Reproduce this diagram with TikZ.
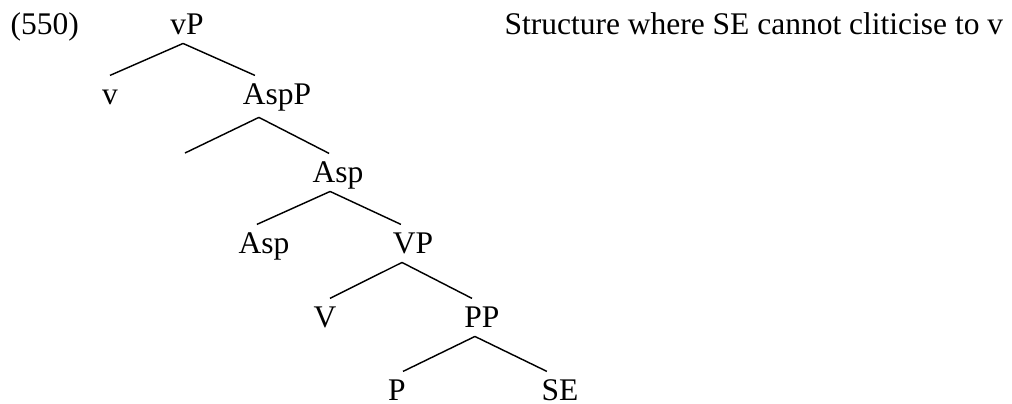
\documentclass[tikz,border=0pt]{standalone}
\usepackage{fontspec}
\setmainfont{Liberation Serif}

\tikzset{
    cat/.style={inner xsep=0pt, inner ysep=3.4pt, text height=7.3pt, text depth=0pt, anchor=base},
    branch/.style={line width=0.55pt}
}

\begin{document}
\begin{tikzpicture}[x=0.381pt, y=-0.381pt, font=\fontsize{12}{14.4}\selectfont]
    \useasboundingbox (0,0) rectangle (1012,403);

    % example number and caption
    \node[anchor=base west, inner sep=0pt] (num) at (10,34) {(550)};
    \node[anchor=base west, inner sep=0pt] (caption) at (504,34) {Structure where SE cannot cliticise to v};

    % tree nodes
    \node[cat] (vP) at (187,34) {vP};
    \node[cat] (v) at (110,104) {v};
    \node[cat] (AspP) at (277,104) {AspP};
    \coordinate (spec) at (185,153);
    \node[cat] (Asp1) at (338,182) {Asp};
    \node[cat] (Asp2) at (264,253) {Asp};
    \node[cat] (VP) at (413,253) {VP};
    \node[cat] (V) at (325,327) {V};
    \node[cat] (PP) at (482,327) {PP};
    \node[cat] (P) at (397,400) {P};
    \node[cat] (SE) at (560,400) {SE};

    % branches
    \draw[branch] ([xshift=-1.5pt]vP.south) -- (v.north);
    \draw[branch] ([xshift=-1.5pt]vP.south) -- ([xshift=-8.4pt]AspP.north);
    \draw[branch] ([xshift=-6.9pt, yshift=-1.5pt]AspP.south) -- (spec);
    \draw[branch] ([xshift=-6.9pt, yshift=-1.5pt]AspP.south) -- ([xshift=-3.4pt]Asp1.north);
    \draw[branch] ([xshift=-3pt]Asp1.south) -- ([xshift=-2.7pt]Asp2.north);
    \draw[branch] ([xshift=-3pt]Asp1.south) -- ([xshift=-4.6pt]VP.north);
    \draw[branch] ([xshift=-4.2pt]VP.south) -- ([xshift=1.9pt]V.north);
    \draw[branch] ([xshift=-4.2pt]VP.south) -- ([xshift=-3.8pt]PP.north);
    \draw[branch] ([xshift=-2.7pt]PP.south) -- ([xshift=2.3pt]P.north);
    \draw[branch] ([xshift=-2.7pt]PP.south) -- ([xshift=-5pt]SE.north);
\end{tikzpicture}
\end{document}
